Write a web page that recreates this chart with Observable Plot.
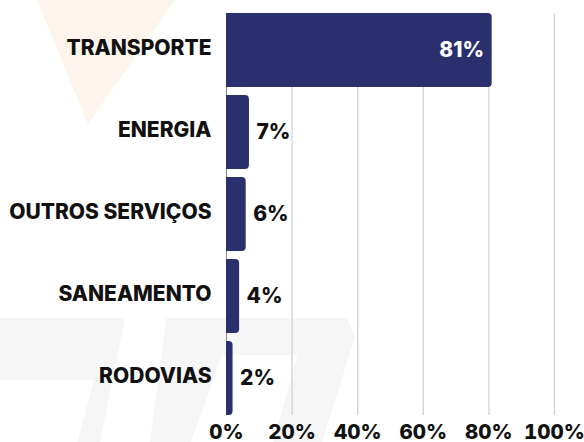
<!DOCTYPE html>
<html>
<head>
<meta charset="utf-8">
<script src="https://cdn.jsdelivr.net/npm/d3@7"></script>
<script src="https://cdn.jsdelivr.net/npm/@observablehq/plot@0.6"></script>
<style>
  html, body { margin: 0; padding: 0; background: #fff; }
  #wrap { position: relative; width: 584px; height: 442px; overflow: hidden; }
  #wm { position: absolute; left: 37px; top: 0; width: 138px; height: 124px;
        background: #fdf4ec; clip-path: polygon(0 0, 100% 0, 37% 100%); }
  .wg { position: absolute; background: #f6f6f6; }
  #wg1 { left: 0; top: 318px; width: 125px; height: 124px;
         clip-path: polygon(0 0, 100% 0, 80% 100%, 62% 100%, 75% 50%, 0 50%); }
  #wg2 { left: 150px; top: 318px; width: 205px; height: 124px;
         clip-path: polygon(8% 0, 96% 0, 100% 15%, 84% 100%, 60% 100%, 72% 30%, 35% 30%, 20% 100%, 0 100%); }
  #chart { position: absolute; left: 0; top: 0; }
</style>
</head>
<body>
<div id="wrap"><div id="wm"></div><div class="wg" id="wg1"></div><div class="wg" id="wg2"></div><div id="chart"></div></div>
<script>
const categories = ["TRANSPORTE", "ENERGIA", "OUTROS SERVIÇOS", "SANEAMENTO", "RODOVIAS"];
const values = [81, 7, 6, 4, 2];
const tickValues = [0, 20, 40, 60, 80, 100];
const tickLabels = ["0%", "20%", "40%", "60%", "80%", "100%"];

const data = categories.map((c, i) => ({category: c, value: values[i]}));
const navy = "#2a2f6e";

const chart = Plot.plot({
  width: 584,
  height: 442,
  marginLeft: 226,
  marginRight: 30,
  marginTop: 13,
  marginBottom: 27,
  style: {background: "transparent", fontFamily: "Inter, 'DejaVu Sans', sans-serif"},
  x: {domain: [0, 100], ticks: tickValues, label: null},
  y: {domain: categories, label: null, paddingInner: 0.1, paddingOuter: 0},
  marks: [
    Plot.gridX(tickValues.filter(d => d > 0), {stroke: "#cfcfcf", strokeOpacity: 1, strokeWidth: 1.2}),
    Plot.ruleX([0], {stroke: "#8a8a8a", strokeWidth: 1}),
    Plot.barX(data, {x: "value", y: "category", fill: navy, rx2: 4}),
    Plot.axisX({ticks: tickValues, tickSize: 0, tickPadding: 9, tickFormat: d => tickLabels[tickValues.indexOf(d)],
      fontSize: 20.5, fontWeight: 800, fill: "#111", label: null}),
    Plot.axisY({tickSize: 0, tickPadding: 15, fontSize: 21, fontWeight: 800, fill: "#111", label: null, dy: -2}),
    Plot.text(data.filter(d => d.value >= 50), {x: "value", y: "category", text: d => d.value + "%",
      textAnchor: "end", dx: -8, fill: "#fff", fontSize: 21, fontWeight: 800}),
    Plot.text(data.filter(d => d.value < 50), {x: "value", y: "category", text: d => d.value + "%",
      textAnchor: "start", dx: 7, fill: "#111", fontSize: 21, fontWeight: 800})
  ]
});
document.getElementById("chart").appendChild(chart);
</script>
</body>
</html>
